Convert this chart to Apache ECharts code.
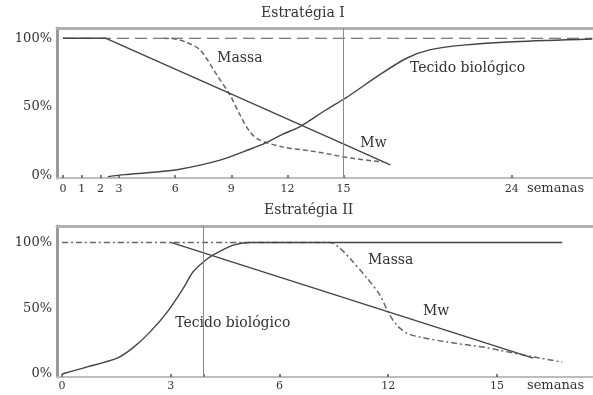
<!DOCTYPE html>
<html>
<head>
<meta charset="utf-8">
<script src="https://cdn.jsdelivr.net/npm/echarts@6/dist/echarts.min.js"></script>
<style>
html,body{margin:0;padding:0;background:#fff;}
#c{width:593px;height:395px;}
</style>
</head>
<body>
<div id="c"></div>
<script>
// ---------- Data ----------
// Estratégia I (x in semanas, y in %)
const topTickValues = [0, 1, 2, 3, 6, 9, 12, 15, 24];
const topRef100 = [[0, 100], [28.3, 100]];
const topMassa = [[5.4, 100], [6.0, 99.5], [6.6, 97], [7.33, 91.5], [8.24, 73], [8.93, 58.5], [9.47, 44], [10.0, 31.6], [10.5, 25.8], [11.76, 20.7], [13.6, 17], [15.35, 12.6], [17.1, 9.7]];
const topMw = [[0, 100], [2.3, 100], [9.04, 59], [15.2, 21.6], [17.5, 7.5]];
const topTissue = [[2.4, -1], [3.3, 0.5], [4.65, 2], [6.1, 4], [8.4, 11], [10, 19], [10.9, 24], [11.76, 30], [12.67, 35.5], [14.1, 48], [15.24, 57.5], [17.0, 74], [18.4, 85.6], [19.6, 91.5], [21.4, 95], [24.1, 97.5], [28.3, 99.5]];
const topMarker = 15;

// Estratégia II
const botTickValues = [0, 3, 6, 9, 12];
const botTickLabels = ['0', '3', '6', '12', '15'];
const botMassa = [[0, 100], [7.39, 100], [7.65, 96], [7.94, 88], [8.41, 73], [8.77, 60], [9.0, 47], [9.24, 37], [9.52, 31], [9.88, 28], [10.7, 24], [11.72, 20], [12.08, 18], [13.0, 13], [13.8, 9]];
const botMw = [[3.0, 100], [13.0, 12]];
const botTissue = [[0, 0], [0.58, 4.5], [1.52, 12], [1.96, 20], [2.43, 32], [2.9, 47], [3.34, 65], [3.61, 77.5], [3.89, 85], [4.17, 90.5], [4.72, 98], [5.19, 100], [13.8, 100]];
const botMarker = 3.9;

const yTickValues = [0, 50, 100];

// ---------- Chart ----------
const FONT = 'DejaVu Serif';
const INK = '#444';
const TXT = '#333';

function note(text, coord) {
  return {
    symbol: 'circle', symbolSize: 0,
    label: { show: true, position: 'inside', align: 'left', verticalAlign: 'middle',
             formatter: text, fontFamily: FONT, fontSize: 14, color: TXT },
    data: [{ coord: coord }]
  };
}

const chart = echarts.init(document.getElementById('c'), null, { renderer: 'canvas' });

const baseX = {
  type: 'value',
  splitLine: { show: false },
  axisLine: { onZero: false, lineStyle: { color: '#bdbdbd', width: 2 } },
  axisTick: { inside: true, length: 3, lineStyle: { color: '#555', width: 1.5 } },
  axisLabel: { fontFamily: FONT, fontSize: 11, color: TXT },
  nameLocation: 'end',
  nameTextStyle: { fontFamily: FONT, fontSize: 13, color: TXT, verticalAlign: 'top', align: 'left' }
};

const frameX = (gi, min, max) => ({
  type: 'value', gridIndex: gi, position: 'top', min: min, max: max,
  axisLine: { onZero: false, lineStyle: { color: '#b0b0b0', width: 3 } },
  axisTick: { show: false }, axisLabel: { show: false }, splitLine: { show: false }
});

const baseY = (gi, min, max) => ({
  type: 'value', gridIndex: gi, min: min, max: max,
  splitLine: { show: false },
  axisLine: { show: true, onZero: false, lineStyle: { color: '#9a9a9a', width: 3 } },
  axisTick: { show: false },
  axisLabel: { customValues: yTickValues, formatter: '{value}%', margin: 5,
               fontFamily: FONT, fontSize: 13, color: TXT }
});

const mline = (x) => ({
  silent: true, symbol: 'none', label: { show: false },
  lineStyle: { color: '#8a8a8a', width: 1, type: 'solid' },
  data: [{ xAxis: x }]
});

const option = {
  animation: false,
  backgroundColor: '#fff',
  title: [
    { text: 'Estratégia I', left: 261, top: 6, padding: 0,
      textStyle: { fontFamily: FONT, fontSize: 14, fontWeight: 'normal', color: TXT } },
    { text: 'Estratégia II', left: 264, top: 203, padding: 0,
      textStyle: { fontFamily: FONT, fontSize: 14, fontWeight: 'normal', color: TXT } }
  ],
  grid: [
    { left: 57, top: 28, width: 536, height: 150 },
    { left: 57, top: 226, width: 536, height: 151 }
  ],
  xAxis: [
    Object.assign({}, baseX, {
      gridIndex: 0, min: -0.32, max: 28.34,
      axisTick: Object.assign({}, baseX.axisTick, { customValues: topTickValues }),
      axisLabel: Object.assign({}, baseX.axisLabel, { customValues: topTickValues, margin: 6 }),
      name: 'semanas', nameGap: -66,
      nameTextStyle: Object.assign({}, baseX.nameTextStyle, { padding: [4, 0, 0, 0] })
    }),
    Object.assign({}, baseX, {
      gridIndex: 1, min: -0.14, max: 14.65,
      axisTick: Object.assign({}, baseX.axisTick, { customValues: [0, 3, botMarker, 6, 9, 12] }),
      axisLabel: Object.assign({}, baseX.axisLabel, {
        customValues: botTickValues, margin: 4,
        formatter: (v) => { const i = botTickValues.indexOf(v); return i >= 0 ? botTickLabels[i] : ''; }
      }),
      name: 'semanas', nameGap: -66,
      nameTextStyle: Object.assign({}, baseX.nameTextStyle, { padding: [2, 0, 0, 0] })
    }),
    frameX(0, -0.32, 28.34),
    frameX(1, -0.14, 14.65)
  ],
  yAxis: [ baseY(0, -2, 107.5), baseY(1, -2.3, 112.5) ],
  series: [
    { name: 'ref100', type: 'line', xAxisIndex: 0, yAxisIndex: 0, data: topRef100,
      symbol: 'none', lineStyle: { color: '#555', width: 1.2, type: [12, 6] } },
    { name: 'Massa', type: 'line', xAxisIndex: 0, yAxisIndex: 0, data: topMassa,
      symbol: 'none', smooth: 0.3, lineStyle: { color: '#666', width: 1.5, type: [5, 3] },
      markPoint: note('Massa', [8.24, 85.6]) },
    { name: 'Mw', type: 'line', xAxisIndex: 0, yAxisIndex: 0, data: topMw,
      symbol: 'none', lineStyle: { color: INK, width: 1.4 },
      markPoint: note('Mw', [15.9, 23.6]), markLine: mline(topMarker) },
    { name: 'Tecido biológico', type: 'line', xAxisIndex: 0, yAxisIndex: 0, data: topTissue,
      symbol: 'none', smooth: 0.3, lineStyle: { color: INK, width: 1.4 },
      markPoint: note('Tecido biológico', [18.55, 78.3]) },

    { name: 'Massa II', type: 'line', xAxisIndex: 1, yAxisIndex: 1, data: botMassa,
      symbol: 'none', smooth: 0.3, lineStyle: { color: '#666', width: 1.5, type: [6, 3, 2, 3] },
      markPoint: note('Massa', [8.44, 86]) },
    { name: 'Mw II', type: 'line', xAxisIndex: 1, yAxisIndex: 1, data: botMw,
      symbol: 'none', lineStyle: { color: INK, width: 1.4 },
      markPoint: note('Mw', [9.96, 47.9]), markLine: mline(botMarker) },
    { name: 'Tecido II', type: 'line', xAxisIndex: 1, yAxisIndex: 1, data: botTissue,
      symbol: 'none', smooth: 0.3, lineStyle: { color: INK, width: 1.4 },
      markPoint: note('Tecido biológico', [3.12, 38.8]) }
  ]
};
chart.setOption(option);
</script>
</body>
</html>
